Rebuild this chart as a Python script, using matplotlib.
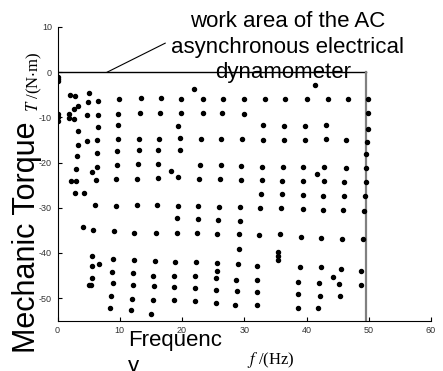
import matplotlib
matplotlib.use("Agg")
import matplotlib.pyplot as plt

plt.rcParams['font.family'] = ['Liberation Sans', 'DejaVu Sans']
plt.rcParams['axes.unicode_minus'] = False
plt.rcParams['mathtext.fontset'] = 'stix'

# measured operating points: frequency (Hz) and torque (N*m)
freq = [0, 0, 0, 0, 0, 0,
        1.85, 1.85, 2.0, 2.8, 2.7, 3.35, 2.7, 3.24, 3.24, 3.14, 3.0, 2.12, 2.93, 2.81, 4.31, 4.1,
        5.06, 4.85, 4.74, 4.69, 5.6,
        6.56, 6.56, 6.56, 6.4, 6.3, 6.3, 6.14, 6.03, 5.76, 5.6, 5.5, 6.7, 5.5, 5.06, 5.4,
        9.94, 9.78, 9.78, 9.78, 9.6, 9.56, 9.46, 9.35, 9.08, 8.92, 8.76, 8.92, 8.65, 8.5,
        13.4, 13.2, 13.05, 13.05, 12.9, 12.8, 12.7, 12.35, 12.25, 12.1, 12.2, 11.9, 11.8,
        16.6, 16.5, 16.3, 16.2, 16.2, 16.1, 16.0, 15.8, 15.6, 15.4, 15.5, 15.4, 15.1,
        19.8, 19.8, 19.4, 19.7, 19.7, 18.3, 19.4, 19.3, 19.2, 19.2, 18.9, 18.7, 18.7, 18.7,
        21.9, 23.3, 23.3, 23.0, 22.9, 22.75, 22.6, 22.6, 22.4, 22.3, 22.1, 22.15, 22.1,
        26.6, 26.4, 26.3, 26.2, 26.1, 25.9, 25.8, 25.6, 25.6, 25.6, 25.4, 25.5, 25.4,
        29.9, 29.9, 29.7, 29.5, 29.5, 29.3, 29.3, 29.1, 29.1, 29.0, 28.7, 28.9, 28.5,
        33.3, 33.0, 33.0, 32.9, 32.8, 32.7, 32.6, 32.4, 32.1, 32.1, 32.1, 32.0,
        36.6, 36.4, 36.4, 36.2, 36.1, 36.0, 35.9, 35.7, 35.4, 35.4, 35.4,
        40.1, 39.7, 39.7, 39.5, 39.5, 39.4, 39.4, 39.1, 38.9, 38.7, 38.7, 38.6,
        41.4, 43.4, 43.1, 43.1, 42.8, 41.7, 42.8, 42.7, 42.6, 42.4, 42.3, 42.0, 42.1, 41.9,
        46.7, 46.4, 46.3, 46.1, 46.0, 45.9, 45.7, 45.5, 44.3, 45.3, 45.4,
        49.8, 49.8, 49.8, 49.7, 49.6, 49.6, 49.5, 49.4, 49.2, 49.0, 48.7, 48.7]
torque = [-1.0, -1.5, -2.0, -9.2, -10.0, -10.8,
          -9.2, -10.2, -5.0, -5.2, -8.1, -7.5, -10.4, -13.0, -16.1, -18.5, -21.4, -24.0, -24.0, -26.7, -26.7, -34.3,
          -4.6, -6.6, -9.6, -15.3, -22.1,
          -6.4, -9.4, -12.2, -15.1, -17.8, -20.9, -23.8, -29.3, -35.0, -40.6, -42.8, -42.5, -45.5, -47.0, -47.0,
          -6.0, -9.2, -11.6, -14.7, -17.5, -20.6, -23.7, -29.6, -35.2, -41.3, -44.2, -46.7, -49.5, -52.1,
          -5.8, -9.1, -14.7, -17.2, -20.4, -23.7, -29.5, -35.5, -41.5, -44.5, -47.1, -50.1, -52.7,
          -5.8, -9.1, -14.7, -17.3, -20.4, -23.4, -29.5, -35.6, -41.9, -45.0, -47.4, -50.5, -53.6,
          -6.0, -9.1, -11.9, -14.5, -17.2, -21.9, -23.2, -29.7, -32.3, -35.6, -42.1, -45.0, -47.6, -50.5,
          -3.8, -6.0, -9.1, -14.7, -20.6, -23.6, -29.7, -32.5, -35.6, -42.0, -45.2, -47.8, -50.7,
          -6.0, -9.1, -14.7, -20.6, -23.6, -29.9, -32.8, -35.9, -42.2, -44.1, -45.6, -48.1, -51.1,
          -6.0, -9.2, -14.7, -20.8, -23.8, -29.9, -33.0, -35.9, -39.2, -42.4, -45.9, -48.4, -51.5,
          -6.0, -11.6, -15.0, -20.9, -23.8, -27.0, -30.0, -36.1, -42.8, -45.9, -48.7, -51.6,
          -6.0, -11.9, -15.0, -21.1, -24.0, -27.0, -30.0, -35.8, -39.8, -40.7, -41.6,
          -6.0, -11.9, -15.0, -21.1, -24.0, -27.1, -30.2, -36.5, -43.1, -46.5, -49.2, -52.1,
          -2.9, -6.0, -11.7, -14.9, -21.0, -22.5, -24.2, -27.4, -30.4, -36.6, -43.2, -46.7, -49.5, -52.3,
          -6.0, -15.1, -21.2, -24.3, -27.5, -30.4, -36.9, -43.6, -45.3, -46.8, -49.6,
          -6.0, -9.0, -12.5, -15.4, -18.1, -21.2, -24.4, -27.5, -30.7, -36.9, -43.9, -47.2]

# work-area boundary of the dynamometer
box_f = [0, 49.6, 49.6]
box_t = [0, 0, -55]
pointer_f = [8.0, 17.3]
pointer_t = [0, 6.4]
note_lines = ['work area of the AC', 'asynchronous electrical', 'dynamometer']

fig = plt.figure(figsize=(4.43, 3.71), dpi=100)
ax = fig.add_axes([57.5 / 443, 50.3 / 371, 373.5 / 443, 293.8 / 371])

ax.plot(box_f[:2], box_t[:2], color='black', lw=1.0, zorder=1)
ax.plot(box_f[1:], box_t[1:], color='#808080', lw=1.6, zorder=1)
ax.plot(pointer_f, pointer_t, color='black', lw=0.8, zorder=1)
ax.plot(freq, torque, 'o', color='black', markersize=2.9, zorder=2)

ax.set_xlim(0, 60)
ax.set_ylim(-55, 10)
ax.set_xticks([0, 10, 20, 30, 40, 50, 60])
ax.set_yticks([10, 0, -10, -20, -30, -40, -50])
ax.spines['top'].set_visible(False)
ax.spines['right'].set_visible(False)
ax.tick_params(direction='in', length=3, width=0.8, labelsize=6.5, labelcolor='#333333', pad=4)

# annotation, one line at a time (baselines in pixels from the top)
for line, base, xc in zip(note_lines, [27, 52.5, 78], [287.5, 287.5, 283]):
    fig.text(xc / 443, 1 - base / 371, line, ha='center', va='baseline', fontsize=16)

fig.text(35 / 443, 1 - 353 / 371, 'Mechanic Torque', rotation=90, rotation_mode='anchor',
         ha='left', va='baseline', fontsize=22)
fig.text(38 / 443, 1 - 112 / 371, r'$T$ /(N$\cdot$m)', rotation=90, rotation_mode='anchor',
         ha='left', va='baseline', fontsize=12, family='Liberation Serif')

fig.text(128 / 443, 1 - 346 / 371, 'Frequenc', ha='left', va='baseline', fontsize=16)
fig.text(128 / 443, 1 - 372 / 371, 'y', ha='left', va='baseline', fontsize=16)
fig.text(247 / 443, 1 - 364 / 371, r'$f$ /(Hz)', ha='left', va='baseline', fontsize=12,
         family='Liberation Serif')

fig.savefig('out.png', dpi=100)
